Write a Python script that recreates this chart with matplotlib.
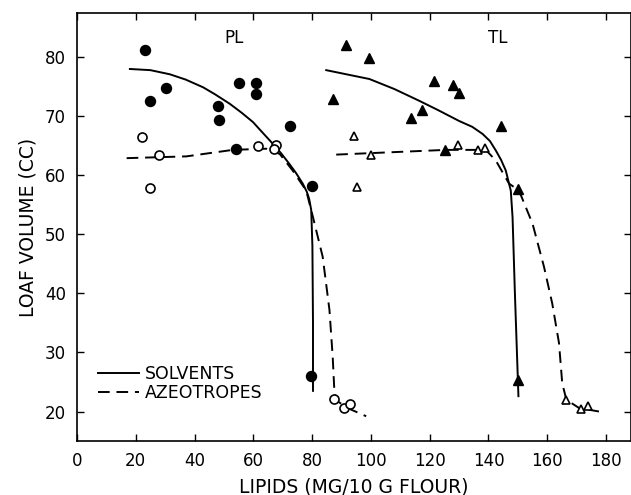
import matplotlib.pyplot as plt

# PL series
pl_solv_x = [23.1, 24.9, 30.4, 48.0, 48.2, 55.1, 60.8, 61.0, 54.0, 72.6, 79.9, 79.7]
pl_solv_y = [81.2, 72.5, 74.8, 71.7, 69.4, 75.6, 75.6, 73.7, 64.5, 68.3, 58.2, 26.0]
pl_azeo_x = [22.0, 24.8, 27.8, 61.6, 67.6, 67.0, 87.6, 90.8, 93.0]
pl_azeo_y = [66.5, 57.8, 63.4, 64.9, 65.1, 64.4, 22.1, 20.6, 21.3]

# TL series
tl_solv_x = [91.6, 99.5, 87.0, 121.6, 128.1, 130.0, 117.4, 113.6, 144.2, 125.3, 149.9, 150.2]
tl_solv_y = [82.1, 79.8, 72.9, 75.9, 75.3, 74.0, 71.1, 69.7, 68.4, 64.3, 57.6, 25.4]
tl_azeo_x = [94.2, 95.3, 100.2, 129.7, 136.3, 138.9, 166.3, 171.4, 174.0]
tl_azeo_y = [66.7, 58.1, 63.5, 65.2, 64.3, 64.6, 22.0, 20.5, 20.9]

# hand-drawn curves, traced
pl_solv_cx = [18, 25, 31.6, 37, 42.9, 47, 52, 56, 59.9, 63, 66.7, 69.5, 72.3, 74.5, 76.8, 78.2, 79.0, 79.7, 80.1, 80.3, 80.3]
pl_solv_cy = [78, 77.8, 77.1, 76.2, 74.9, 73.7, 72.1, 70.6, 69.0, 67.3, 65.3, 63.7, 61.9, 60.4, 58.6, 57.2, 56.0, 54.1, 48, 35, 23.5]
pl_azeo_cx = [16.9, 37.2, 53, 64.4, 69, 73.4, 78, 80.3, 83.6, 85.9, 87, 87.6, 88.5, 92, 98.4]
pl_azeo_cy = [62.9, 63.2, 64.3, 64.5, 63.6, 60.8, 57.4, 52.9, 46.2, 37.2, 29.3, 23.2, 21.8, 20.6, 19.2]
tl_solv_cx = [84.8, 99.5, 108, 116.5, 123, 130, 134.5, 138, 140.5, 142.5, 144.3, 145.9, 147.6, 148.2, 149.0, 150.2]
tl_solv_cy = [77.8, 76.3, 74.6, 72.6, 71.0, 69.2, 68.2, 67.0, 65.8, 64.2, 62.6, 60.8, 57.4, 52.9, 40, 22.6]
tl_azeo_cx = [88.2, 125.5, 139.1, 142.5, 147, 150.4, 155, 158.9, 161.7, 164, 165.1, 166.5, 170.8, 177.6]
tl_azeo_cy = [63.5, 64.3, 64.3, 62.5, 58.6, 57.4, 51.8, 44.5, 38.3, 31.6, 24.8, 22, 20.6, 20]

x_ticks = [0, 20, 40, 60, 80, 100, 120, 140, 160, 180]
y_ticks = [20, 30, 40, 50, 60, 70, 80]

plt.rcParams['font.family'] = 'DejaVu Sans'
fig = plt.figure(figsize=(6.31, 4.95), dpi=100)
ax = fig.add_axes([0.122, 0.109, 0.878, 0.865])

dash = (0, (6, 3.5))
ax.plot(pl_solv_cx, pl_solv_cy, color='black', lw=1.4, label='SOLVENTS')
ax.plot(pl_azeo_cx, pl_azeo_cy, color='black', lw=1.4, ls=dash, label='AZEOTROPES')
ax.plot(tl_solv_cx, tl_solv_cy, color='black', lw=1.4)
ax.plot(tl_azeo_cx, tl_azeo_cy, color='black', lw=1.4, ls=dash)

ax.plot(pl_solv_x, pl_solv_y, 'o', color='black', ms=7.2)
ax.plot(pl_azeo_x, pl_azeo_y, 'o', mfc='white', mec='black', mew=1.2, ms=6.5)
ax.plot(tl_solv_x, tl_solv_y, '^', color='black', ms=6.5)
ax.plot(tl_azeo_x, tl_azeo_y, '^', mfc='white', mec='black', mew=1.2, ms=6)

ax.text(53.6, 83.2, 'PL', ha='center', va='center', fontsize=12)
ax.text(143, 83.3, 'TL', ha='center', va='center', fontsize=12)

ax.set_xlim(0, 188.5)
ax.set_ylim(15, 87.5)
ax.set_xticks(x_ticks)
ax.set_yticks(y_ticks)
ax.tick_params(direction='in', length=5, width=1, top=True, right=True,
               labelsize=12, pad=8)
for s in ax.spines.values():
    s.set_linewidth(1.2)

ax.set_xlabel('LIPIDS (MG/10 G FLOUR)', fontsize=13.5, labelpad=5)
ax.set_ylabel('LOAF VOLUME (CC)', fontsize=13.5, labelpad=5)

leg = ax.legend(loc='lower left', bbox_to_anchor=(0.025, 0.075), frameon=False,
                fontsize=12.5, handlelength=2.4, handletextpad=0.3,
                labelspacing=0.05, borderaxespad=0)

plt.savefig('out.png', dpi=100)
